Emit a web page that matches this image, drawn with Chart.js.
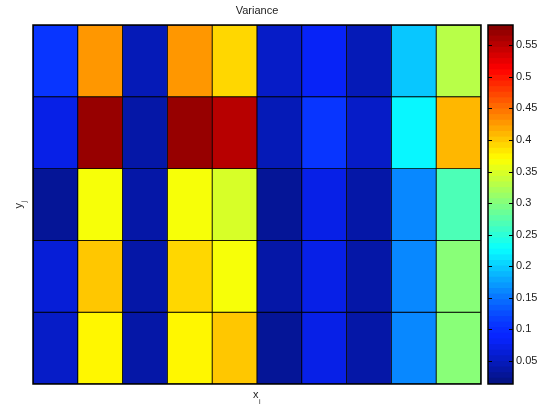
<!DOCTYPE html>
<html>
<head>
<meta charset="utf-8">
<script src="https://cdn.jsdelivr.net/npm/chart.js@4/dist/chart.umd.min.js"></script>
<style>
  html, body { margin: 0; padding: 0; background: #fff; }
  #wrap { position: relative; width: 548px; height: 410px; }
  #wrap canvas { position: absolute; left: 0; top: 0; }
</style>
</head>
<body>
<div id="wrap">
  <canvas id="heat" width="548" height="410"></canvas>
  <canvas id="cbar" width="548" height="410"></canvas>
</div>
<script>
// Grid categories
const xCols = ['1', '2', '3', '4', '5', '6', '7', '8', '9', '10'];
const yRows = ['1', '2', '3', '4', '5'];

// Variance per cell, one array per row (top row first)
const varianceRow1 = [0.103, 0.428, 0.042, 0.428, 0.392, 0.053, 0.078, 0.042, 0.195, 0.332];
const varianceRow2 = [0.070, 0.571, 0.039, 0.571, 0.554, 0.042, 0.103, 0.053, 0.218, 0.411];
const varianceRow3 = [0.031, 0.360, 0.033, 0.360, 0.349, 0.025, 0.070, 0.036, 0.156, 0.264];
const varianceRow4 = [0.059, 0.400, 0.033, 0.392, 0.360, 0.036, 0.070, 0.036, 0.164, 0.306];
const varianceRow5 = [0.053, 0.377, 0.033, 0.377, 0.400, 0.025, 0.070, 0.033, 0.161, 0.298];

// Colour limits and colorbar tick labels
const colorLimits = [0.0135, 0.582];
const colorbarTicks = [0.05, 0.1, 0.15, 0.2, 0.25, 0.3, 0.35, 0.4, 0.45, 0.5, 0.55];

const FONT = '"Liberation Sans", Arial, Helvetica, sans-serif';
const LEVELS = 64;

// Jet colormap, quantised to 64 levels (with a slight lift of green in the blues)
function jet(v) {
  let t = (v - colorLimits[0]) / (colorLimits[1] - colorLimits[0]);
  t = Math.max(0, Math.min(1, t));
  const k = Math.min(LEVELS - 1, Math.floor(t * LEVELS));
  t = (k + 0.5) / LEVELS;
  const c = x => Math.max(0, Math.min(1, x));
  let r = c(1.5 - Math.abs(4 * t - 3));
  let g = c(1.5 - Math.abs(4 * t - 2));
  const b = c(1.5 - Math.abs(4 * t - 1));
  g = g + 0.14 * b * Math.pow(1 - g, 6);
  r = r + 0.03 * b * (1 - r);
  return `rgb(${Math.round(r * 255)},${Math.round(g * 255)},${Math.round(b * 255)})`;
}

const rows = [varianceRow1, varianceRow2, varianceRow3, varianceRow4, varianceRow5];

const heatDatasets = rows.map((vals, r) => ({
  label: 'y' + yRows[r],
  data: vals.map(() => [r, r + 1]),
  backgroundColor: vals.map(jet),
  borderColor: '#000',
  borderWidth: 0.8,
  borderSkipped: false,
  categoryPercentage: 1,
  barPercentage: 1,
  grouped: false
}));

// Axis frame, title and axis labels
const heatDecor = {
  id: 'heatDecor',
  afterDraw(chart) {
    const { ctx, chartArea: a } = chart;
    ctx.save();
    ctx.strokeStyle = '#000';
    ctx.lineWidth = 1.5;
    ctx.strokeRect(a.left, a.top, a.right - a.left, a.bottom - a.top);
    ctx.fillStyle = '#222';
    ctx.textAlign = 'center';
    ctx.textBaseline = 'alphabetic';
    ctx.font = '11px ' + FONT;
    const cx = (a.left + a.right) / 2;
    ctx.fillText('Variance', cx, 14);
    // x label with subscript
    ctx.textAlign = 'left';
    ctx.fillText('x', cx - 4, 398);
    ctx.font = '7px ' + FONT;
    ctx.fillText('i', cx + 2, 404);
    // y label with subscript, rotated
    ctx.translate(22, (a.top + a.bottom) / 2 + 4);
    ctx.rotate(-Math.PI / 2);
    ctx.font = '11px ' + FONT;
    ctx.fillText('y', 0, 0);
    ctx.font = '7px ' + FONT;
    ctx.fillText('j', 6, 4);
    ctx.restore();
  }
};

new Chart(document.getElementById('heat'), {
  type: 'bar',
  data: { labels: xCols, datasets: heatDatasets },
  options: {
    responsive: false,
    animation: false,
    events: [],
    layout: { padding: { left: 33, right: 67, top: 25, bottom: 26 } },
    plugins: { legend: { display: false }, tooltip: { enabled: false } },
    scales: {
      x: { display: false, offset: true },
      y: { display: false, min: 0, max: yRows.length, reverse: true }
    }
  },
  plugins: [heatDecor]
});

// Colorbar: 64 colour bands
const step = (colorLimits[1] - colorLimits[0]) / LEVELS;
const bandDatasets = [];
for (let k = 0; k < LEVELS; k++) {
  const lo = colorLimits[0] + k * step;
  const hi = lo + step;
  bandDatasets.push({
    data: [[lo, hi + (k < LEVELS - 1 ? step * 0.05 : 0)]],
    backgroundColor: jet((lo + hi) / 2),
    borderWidth: 0,
    categoryPercentage: 1,
    barPercentage: 1,
    grouped: false
  });
}

const cbarDecor = {
  id: 'cbarDecor',
  afterDraw(chart) {
    const { ctx, chartArea: a } = chart;
    const ys = chart.scales.y;
    ctx.save();
    ctx.strokeStyle = '#000';
    ctx.lineWidth = 1;
    colorbarTicks.forEach(v => {
      const y = Math.round(ys.getPixelForValue(v)) + 0.5;
      ctx.beginPath();
      ctx.moveTo(a.right - 4, y);
      ctx.lineTo(a.right, y);
      ctx.moveTo(a.left, y);
      ctx.lineTo(a.left + 4, y);
      ctx.stroke();
    });
    ctx.lineWidth = 1.5;
    ctx.strokeRect(a.left, a.top, a.right - a.left, a.bottom - a.top);
    ctx.restore();
  }
};

new Chart(document.getElementById('cbar'), {
  type: 'bar',
  data: { labels: ['c'], datasets: bandDatasets },
  options: {
    responsive: false,
    animation: false,
    events: [],
    layout: { padding: { left: 488, right: 0, top: 25, bottom: 26 } },
    plugins: { legend: { display: false }, tooltip: { enabled: false } },
    scales: {
      x: { display: false },
      y: {
        position: 'right',
        min: colorLimits[0],
        max: colorLimits[1],
        afterBuildTicks(scale) { scale.ticks = colorbarTicks.map(v => ({ value: v })); },
        afterFit(scale) { scale.width = 35; },
        border: { display: false },
        grid: { display: false, drawTicks: false },
        ticks: {
          padding: 3,
          color: '#222',
          font: { family: FONT, size: 11 },
          callback: v => String(+v.toFixed(2))
        }
      }
    }
  },
  plugins: [cbarDecor]
});
</script>
</body>
</html>
